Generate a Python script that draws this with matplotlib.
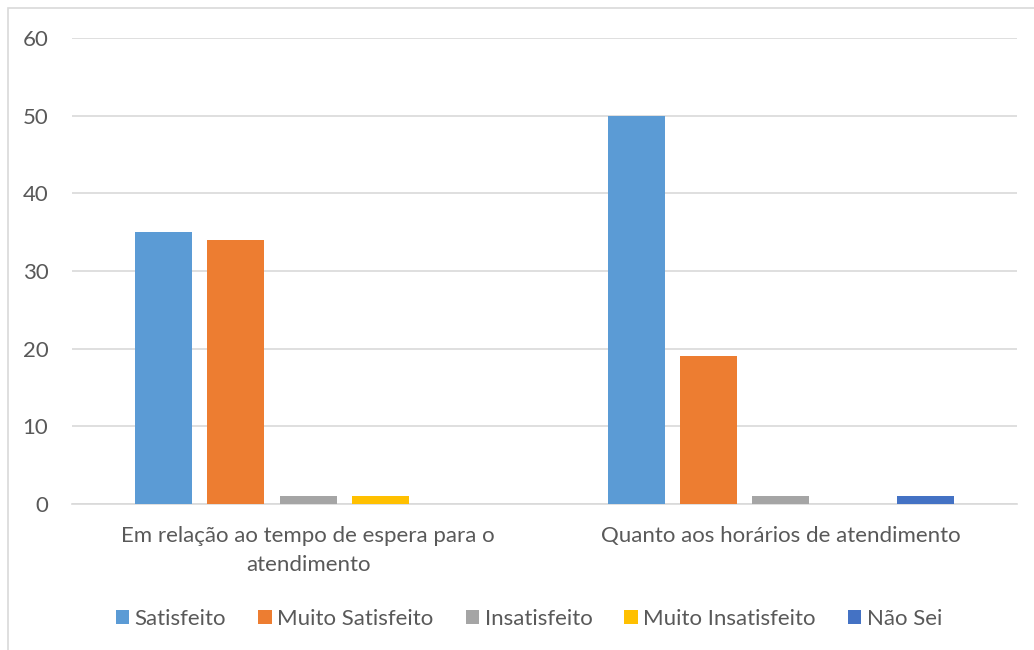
import matplotlib.pyplot as plt
import numpy as np
from matplotlib.patches import Rectangle

plt.rcParams['font.family'] = ['Lato', 'DejaVu Sans']

categories = ['Em relação ao tempo de espera para o\natendimento',
              'Quanto aos horários de atendimento']
series_names = ['Satisfeito', 'Muito Satisfeito', 'Insatisfeito',
                'Muito Insatisfeito', 'Não Sei']
satisfeito = [35, 50]
muito_satisfeito = [34, 19]
insatisfeito = [1, 1]
muito_insatisfeito = [1, 0]
nao_sei = [0, 1]
series_values = [satisfeito, muito_satisfeito, insatisfeito,
                 muito_insatisfeito, nao_sei]
colors = ['#5B9BD5', '#ED7D31', '#A5A5A5', '#FFC000', '#4472C4']
text_color = '#595959'

fig = plt.figure(figsize=(10.34, 6.5), dpi=100)
ax = fig.add_axes([72 / 1034, 1 - 504 / 650, 945 / 1034, 466 / 650])

# outer chart frame (left and top edges visible)
fig.patches.append(Rectangle((8 / 1034, -0.1), 1.2, 1 - 8 / 650 + 0.1,
                             transform=fig.transFigure, fill=False,
                             edgecolor='#d9d9d9', linewidth=1.2))

x = np.arange(len(categories))
step = 72.3 / 472.5
width = 57 / 472.5
for i, (name, vals, c) in enumerate(zip(series_names, series_values, colors)):
    ax.bar(x + (i - 2) * step, vals, width, color=c, label=name, zorder=3)

ax.set_xlim(-0.5, 1.5)
ax.set_ylim(0, 60)
ax.set_yticks(range(0, 61, 10))
ax.yaxis.grid(True, color='#d9d9d9', linewidth=1.2, zorder=0)
ax.set_axisbelow(True)
for s in ['top', 'right', 'left']:
    ax.spines[s].set_visible(False)
ax.spines['bottom'].set_color('#d9d9d9')
ax.spines['bottom'].set_linewidth(1.2)
ax.tick_params(axis='both', length=0, labelsize=16, colors=text_color)
ax.tick_params(axis='y', pad=17)
ax.tick_params(axis='x', pad=16)
ax.set_xticks(x)
ax.set_xticklabels(categories, linespacing=1.55)

leg = fig.legend(loc='center', bbox_to_anchor=(529 / 1034, 1 - 619 / 650),
                 ncol=5, frameon=False, fontsize=16, handlelength=0.6,
                 handleheight=0.6, handletextpad=0.25, columnspacing=1.45)
for t in leg.get_texts():
    t.set_color(text_color)

fig.savefig('out.png', dpi=100)
